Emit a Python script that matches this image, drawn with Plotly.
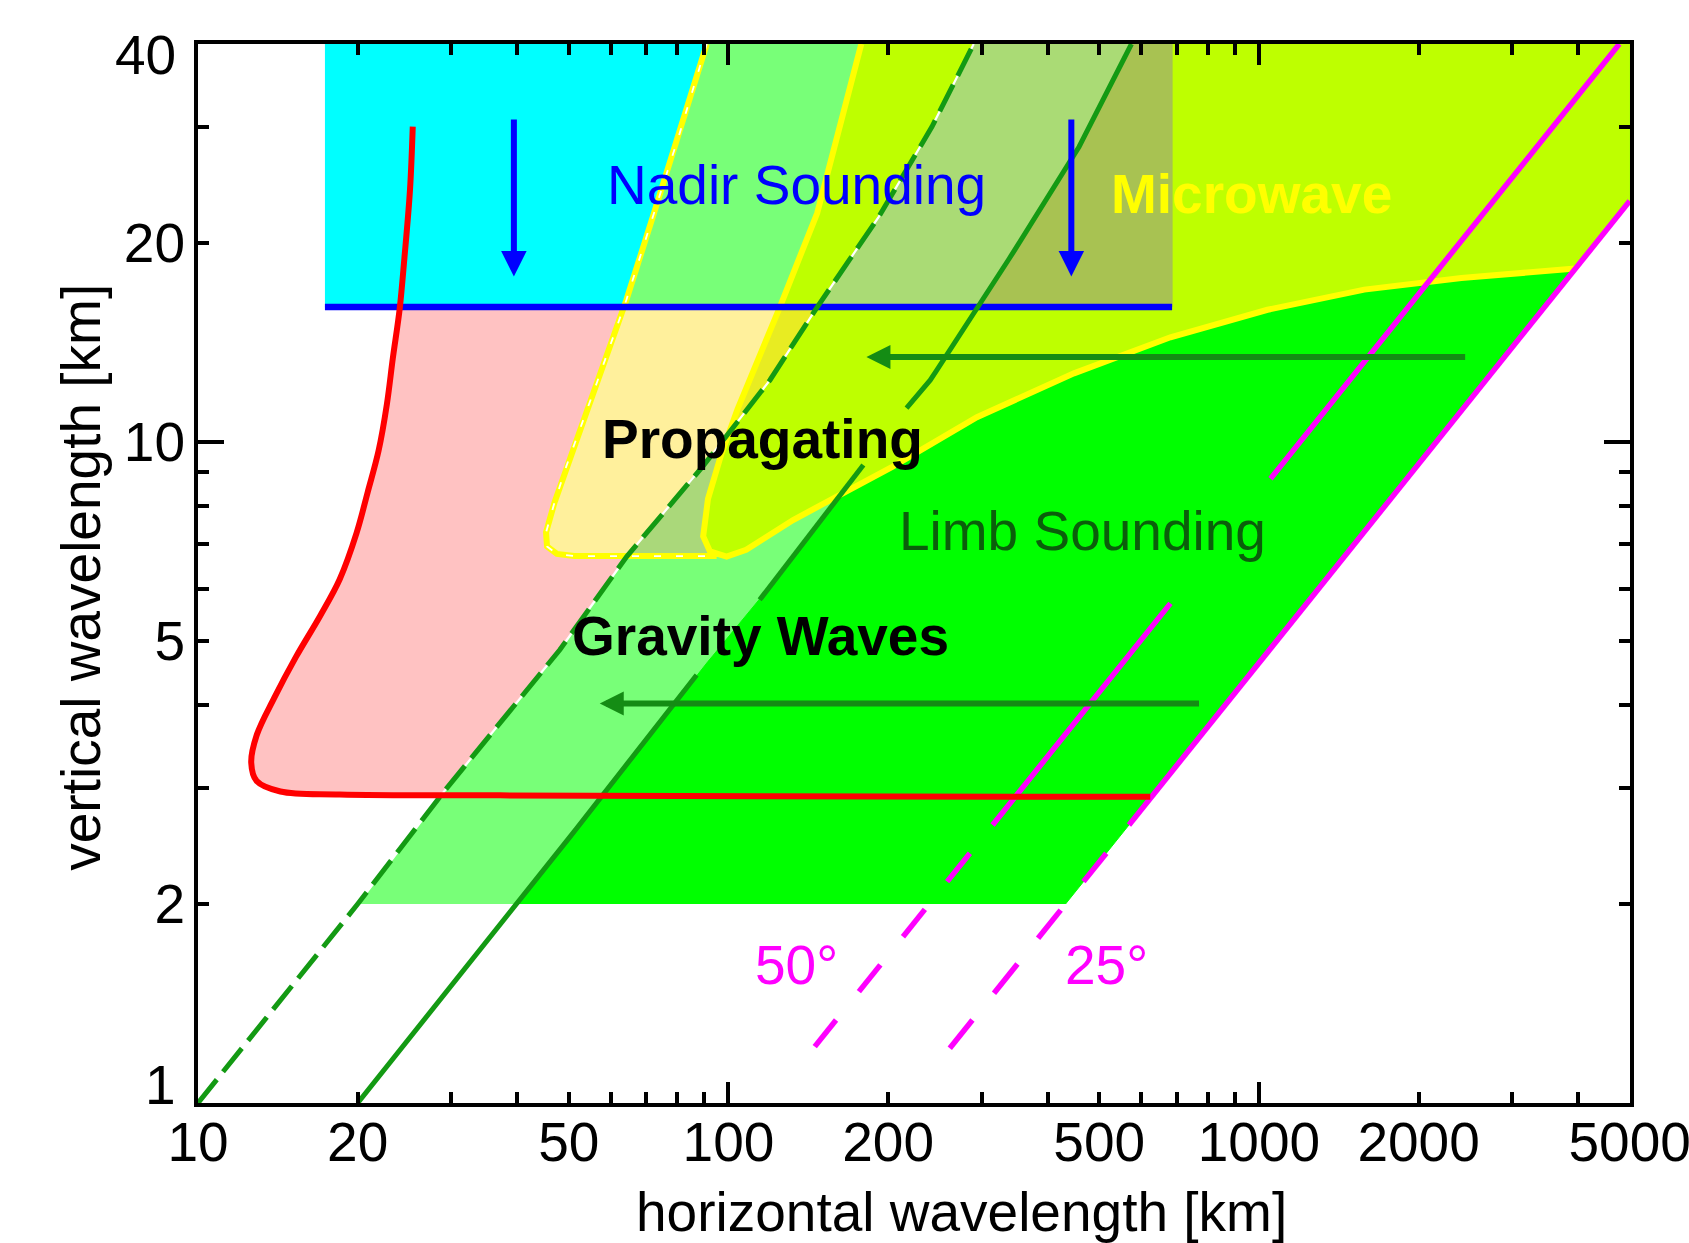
import numpy as np
import plotly.graph_objects as go

# ---------------- axes ----------------
x_range = [10, 5000]
y_range = [1, 40]
x_tick_vals = [10, 20, 30, 40, 50, 60, 70, 80, 90, 100, 200, 300, 400, 500, 600, 700, 800, 900,
               1000, 2000, 3000, 4000, 5000]
x_tick_labeled = [10, 20, 50, 100, 200, 500, 1000, 2000, 5000]
y_tick_vals = [1, 2, 3, 4, 5, 6, 7, 8, 9, 10, 20, 30, 40]
y_tick_labeled = [2, 5, 10, 20]
y_end_labels = ['1', '40']            # end labels, set just inside the axis ends
x_decades = [100, 1000]
y_decades = [10]

# ---------------- data ----------------
# red curve: gravity-wave spectrum boundary
red_x = [25.4, 25.1, 24.5, 24.0, 23.3, 22.7, 21.9, 20.9, 19.9, 18.5, 17.0, 15.3, 13.9, 12.9, 12.6,
         12.9, 14.3, 18.5, 37.1, 120, 624]
red_y = [30.0, 24.1, 19.0, 15.9, 13.4, 11.4, 9.70, 8.41, 7.28, 6.20, 5.46, 4.73, 4.09, 3.60, 3.27,
         3.07, 2.96, 2.93, 2.92, 2.91, 2.905]

# dashed dark-green limb boundary
dg_x = [10, 20, 29.1, 48.1, 64.3, 89.6, 119.7, 147, 192, 242, 290]
dg_y = [1, 2, 2.96, 4.85, 6.71, 9.2, 12.4, 16, 21.9, 30, 40]

# solid dark-green limb boundary
sg_x = [20, 40, 87.1, 114.5, 153, 179.6, 216.6, 240, 296, 448, 575]
sg_y = [1, 2.0, 4.44, 5.77, 7.8, 9.23, 11.25, 12.4, 16, 27, 40]
sg_seg_lo = [1, 5.77, 11.25]
sg_seg_hi = [4.44, 9.23, 40]

# yellow dashed "propagating" outline
yd_x = [91, 80.9, 72.0, 64.2, 56.5, 53.2, 49.5, 47.0, 45.3, 45.5, 47.5, 51.2, 95]
yd_y = [40, 29.3, 21.9, 16.4, 12.3, 10.8, 9.2, 8.1, 7.3, 6.95, 6.77, 6.72, 6.72]

# yellow solid microwave outline
mw_x = [178, 157, 147, 125, 112, 104, 97, 91.5, 89.6, 92.3, 99.2, 108, 132.4, 164.5, 204, 294,
        448, 681, 1038, 1580, 2408, 3950]
mw_y = [40, 27.4, 22.2, 16, 13.0, 11.2, 9.6, 8.2, 7.2, 6.83, 6.71, 6.87, 7.62, 8.36, 9.18, 10.9,
        12.7, 14.4, 15.85, 17.0, 17.7, 18.3]

# nadir sounding box
nadir_x = [17.35, 686]
nadir_y = [16, 40]

# magenta observation-angle lines (lambda_h / lambda_z ratio)
mag_labels = ['50°', '25°']
mag_ratio = [119.5, 216]
mag_seg_lo = [[1.217, 1.474, 1.785, 2.162, 2.634, 8.8],
              [1.21, 1.466, 1.775, 2.162, 2.634]]
mag_seg_hi = [[1.335, 1.618, 1.963, 2.387, 5.70, 40],
              [1.335, 1.623, 1.958, 2.387, 40]]
mag_label_x = [134.6, 517]
mag_label_y = [1.62, 1.62]

# arrows
blue_arrow_x = [39.4, 443]
blue_arrow_tail_y = 30.9
blue_arrow_tip_y = 17.8
green_arrow_tail_x = [2464, 776]
green_arrow_tip_x = [182, 57.2]
green_arrow_y = [13.45, 4.02]

# labels
labels = ['Nadir Sounding', 'Microwave', 'Propagating', 'Gravity Waves', 'Limb Sounding']
label_x = [134.6, 969, 116, 115, 465]
label_y = [24.5, 23.7, 10.1, 5.08, 7.33]
label_color = ['#0000FF', '#FFFF00', '#000000', '#000000', '#0B5E0B']
label_bold = [False, True, True, True, False]

# ---------------- helpers ----------------
def lg(a):
    return np.log10(np.asarray(a, dtype=float))


def x_at(xs, ys, yq):
    xs = np.asarray(xs, float)
    ys = np.asarray(ys, float)
    o = np.argsort(ys)
    return 10 ** np.interp(lg(yq), lg(ys[o]), lg(xs[o]))


fig = go.Figure()


def poly(xs, ys, color):
    fig.add_trace(go.Scatter(x=list(xs), y=list(ys), mode='lines', fill='toself', fillcolor=color,
                             line=dict(width=1, color=color), hoverinfo='skip', showlegend=False))


def line(xs, ys, color, width, dash='solid', shape='linear'):
    fig.add_trace(go.Scatter(x=list(xs), y=list(ys), mode='lines',
                             line=dict(color=color, width=width, dash=dash, shape=shape),
                             hoverinfo='skip', showlegend=False, connectgaps=False))


xmax, ymax = x_range[1], y_range[1]
imin = int(np.argmin(mw_y))
ysl_x, ysl_y = mw_x[:imin + 1], mw_y[:imin + 1]          # left branch of microwave outline
ydt_x = [x for x, y in zip(yd_x, yd_y) if y >= 7.3]      # top branch of propagating outline
ydt_y = [y for y in yd_y if y >= 7.3]
r25 = mag_ratio[1]

# crossing of dashed green with yellow left branch
yq = np.geomspace(7, 16, 3000)
d = lg(x_at(dg_x, dg_y, yq)) - lg(x_at(ysl_x, ysl_y, yq))
y_cross = yq[int(np.argmax(d > 0))]

# ---------------- fills ----------------
poly(red_x + [red_x[-1]], red_y + [red_y[0]], '#FFC2C2')
poly([nadir_x[0], nadir_x[1], nadir_x[1], nadir_x[0]],
     [nadir_y[0], nadir_y[0], nadir_y[1], nadir_y[1]], '#00FFFF')
yb = np.geomspace(2, ymax, 150)
poly(np.r_[x_at(dg_x, dg_y, yb), x_at(sg_x, sg_y, yb)[::-1]], np.r_[yb, yb[::-1]], '#78FF78')
poly(np.r_[x_at(sg_x, sg_y, yb), xmax, xmax, r25 * 2],
     np.r_[yb, ymax, xmax / r25, 2], '#00FF00')
poly(mw_x + [xmax, xmax], mw_y + [xmax / r25, ymax], '#BEFF00')
px = [x_at(ydt_x, ydt_y, 16)[()]] + [x for x, y in zip(yd_x, yd_y) if y < 16]
py = [16] + [y for y in yd_y if y < 16]
px += [x for x, y in zip(ysl_x[::-1], ysl_y[::-1]) if y < 16] + [x_at(ysl_x, ysl_y, 16)[()]]
py += [y for y in ysl_y[::-1] if y < 16] + [16]
poly(px, py, '#FFF09C')
yt = np.geomspace(y_cross, 16, 60)
poly(np.r_[x_at(ysl_x, ysl_y, yt), x_at(dg_x, dg_y, yt)[::-1]], np.r_[yt, yt[::-1]], '#E8EC22')
yo = np.geomspace(min(mw_y), y_cross, 60)
poly(np.r_[x_at(dg_x, dg_y, yo), x_at(ysl_x, ysl_y, yo)[::-1]], np.r_[yo, yo[::-1]], '#AAD87A')
yn = np.geomspace(nadir_y[0], nadir_y[1], 80)
poly(np.r_[x_at(ydt_x, ydt_y, yn), x_at(ysl_x, ysl_y, yn)[::-1]], np.r_[yn, yn[::-1]], '#78FF78')
poly(np.r_[x_at(dg_x, dg_y, yn), x_at(sg_x, sg_y, yn)[::-1]], np.r_[yn, yn[::-1]], '#AADB75')
poly(np.r_[x_at(sg_x, sg_y, yn), [nadir_x[1]] * len(yn)], np.r_[yn, yn[::-1]], '#A8C252')

# ---------------- lines ----------------
line(yd_x, yd_y, '#FFFF00', 6)
line(yd_x, yd_y, '#FFFFFF', 1.8, dash='7px,15px')
line(mw_x, mw_y, '#FFFF00', 6)
line(nadir_x, [nadir_y[0], nadir_y[0]], '#0000FF', 6.5)
line(dg_x, dg_y, '#FFFFFF', 2.2)
line(dg_x, dg_y, '#139A13', 5, dash='30px,10px')
sx, sy = [], []
for lo, hi in zip(sg_seg_lo, sg_seg_hi):
    yy = np.geomspace(lo, hi, 40)
    sx += list(x_at(sg_x, sg_y, yy)) + [None]
    sy += list(yy) + [None]
line(sx, sy, '#139A13', 5)
for r, los, his in zip(mag_ratio, mag_seg_lo, mag_seg_hi):
    mx, my = [], []
    for lo, hi in zip(los, his):
        hi = min(hi, xmax / r)
        mx += [r * lo, r * hi, None]
        my += [lo, hi, None]
    line(mx, my, '#FF00FF', 5.5)
line(red_x, red_y, '#FF0000', 6, shape='spline')

# ---------------- annotations ----------------
FONT = 'Liberation Sans, Arial, sans-serif'
ann = []
for bx in blue_arrow_x:
    ann.append(dict(x=np.log10(bx), y=np.log10(blue_arrow_tip_y), ax=np.log10(bx),
                    ay=np.log10(blue_arrow_tail_y), xref='x', yref='y', axref='x', ayref='y',
                    showarrow=True, arrowhead=2, arrowsize=0.85, arrowwidth=6, arrowcolor='#0000FF',
                    text=''))
for tx, hx, gy in zip(green_arrow_tail_x, green_arrow_tip_x, green_arrow_y):
    ann.append(dict(x=np.log10(hx), y=np.log10(gy), ax=np.log10(tx), ay=np.log10(gy),
                    xref='x', yref='y', axref='x', ayref='y', showarrow=True, arrowhead=2,
                    arrowsize=0.8, arrowwidth=6, arrowcolor='#148C14', text=''))
for t, lx, ly, c, b in zip(labels, label_x, label_y, label_color, label_bold):
    ann.append(dict(x=np.log10(lx), y=np.log10(ly), xref='x', yref='y', showarrow=False,
                    text=f'<b>{t}</b>' if b else t,
                    font=dict(family=FONT, size=55, color=c), xanchor='center', yanchor='middle'))
for t, lx, ly in zip(mag_labels, mag_label_x, mag_label_y):
    ann.append(dict(x=np.log10(lx), y=np.log10(ly), xref='x', yref='y', showarrow=False, text=t,
                    font=dict(family=FONT, size=55, color='#FF00FF'), xanchor='center',
                    yanchor='middle'))
# y-axis end labels, nudged inside the axis as in the original
for t, yp in zip(y_end_labels, [0.017, 0.9896]):
    ann.append(dict(x=-0.014, y=yp, xref='paper', yref='paper', showarrow=False, text=t,
                    font=dict(family=FONT, size=55, color='black'), xanchor='right',
                    yanchor='middle'))
ann.append(dict(x=0.5335, y=-0.103, xref='paper', yref='paper', showarrow=False,
                text='horizontal wavelength [km]', font=dict(family=FONT, size=55, color='black'),
                xanchor='center', yanchor='middle'))
ann.append(dict(x=-0.0817, y=0.496, xref='paper', yref='paper', showarrow=False, textangle=-90,
                text='vertical wavelength [km]', font=dict(family=FONT, size=55, color='black'),
                xanchor='center', yanchor='middle'))

axis_common = dict(type='log', showline=True, linewidth=4, linecolor='black', mirror='ticks',
                   ticks='inside', ticklen=11, tickwidth=4, tickcolor='black', showgrid=False,
                   zeroline=False, tickfont=dict(family=FONT, size=55, color='black'),
                   ticklabeloverflow='allow', automargin=False)

fig.update_layout(
    width=1689, height=1243,
    margin=dict(l=198, r=59, t=44, b=140, autoexpand=False),
    paper_bgcolor='white', plot_bgcolor='white',
    showlegend=False,
    annotations=ann,
    xaxis=dict(**axis_common, range=[np.log10(x_range[0]), np.log10(x_range[1]) + 0.0006],
               tickmode='array', tickvals=x_tick_vals,
               ticktext=[str(v) if v in x_tick_labeled else '' for v in x_tick_vals],
               ticklabelstandoff=-12,
               minor=dict(tickmode='array', tickvals=x_decades, ticks='inside', ticklen=21,
                          tickwidth=4, tickcolor='black', showgrid=False)),
    yaxis=dict(**axis_common, range=[np.log10(y_range[0]), np.log10(y_range[1])],
               tickmode='array', tickvals=y_tick_vals,
               ticktext=[str(v) if v in y_tick_labeled else '' for v in y_tick_vals],
               ticklabelstandoff=-2,
               minor=dict(tickmode='array', tickvals=y_decades, ticks='inside', ticklen=26,
                          tickwidth=4, tickcolor='black', showgrid=False)),
)

fig.write_html('out.html')
